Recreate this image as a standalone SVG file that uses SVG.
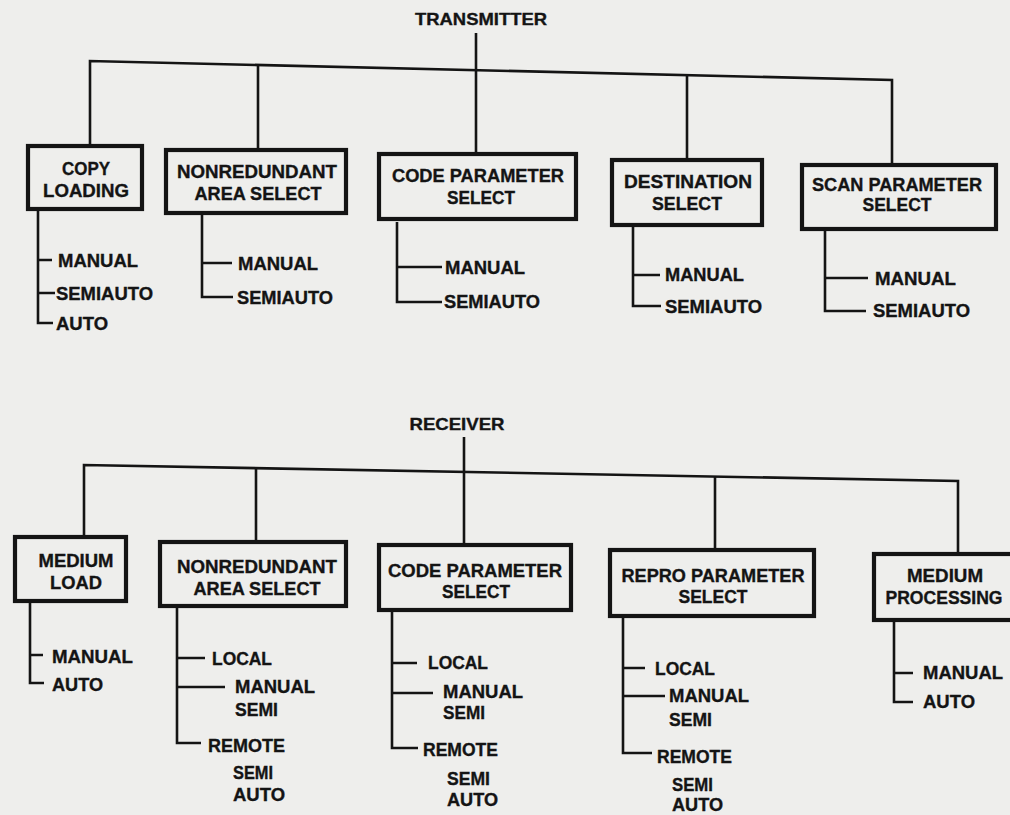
<svg xmlns="http://www.w3.org/2000/svg" width="1010" height="815" viewBox="0 0 1010 815">
<style>
.bg{fill:#eeeeec}
.box{fill:none;stroke:#141414;stroke-width:4.2}
.ln{fill:none;stroke:#141414;stroke-width:2.6}
text{font-family:"Liberation Sans",Arial,sans-serif;font-weight:bold;font-size:18px;fill:#141414;stroke:#141414;stroke-width:0.35}
.m{text-anchor:middle}
.h{font-size:16.5px}
</style>
<rect class="bg" x="0" y="0" width="1010" height="815"/>

<g id="connectors">
  <!-- transmitter tree -->
  <path class="ln" d="M476,33 V152"/>
  <path class="ln" d="M90,144 V61 L892,80 V163"/>
  <path class="ln" d="M258,65 V148"/>
  <path class="ln" d="M687,75 V158"/>
  <!-- transmitter lists -->
  <path class="ln" d="M38,211 V323 H53 M38,260 H52 M38,293 H55"/>
  <path class="ln" d="M202,215 V297 H233 M202,263 H232"/>
  <path class="ln" d="M397,222 V302 H442 M397,267 H442"/>
  <path class="ln" d="M633,227 V306 H661 M633,275 H660"/>
  <path class="ln" d="M825,231 V311 H866 M825,278 H868"/>
  <!-- receiver tree -->
  <path class="ln" d="M464,437 V543"/>
  <path class="ln" d="M84,535 V465 L958,481 V552"/>
  <path class="ln" d="M256,468 V540"/>
  <path class="ln" d="M715,477 V548"/>
  <!-- receiver lists -->
  <path class="ln" d="M30,603 V683 H44 M30,655 H43"/>
  <path class="ln" d="M177,608 V743 H201 M177,658 H205 M177,687 H225"/>
  <path class="ln" d="M392,612 V748 H418 M392,663 H417 M392,693 H433"/>
  <path class="ln" d="M623,618 V753 H652 M623,668 H645 M623,696 H665"/>
  <path class="ln" d="M894,622 V702 H913 M894,673 H913"/>
</g>

<g id="transmitter">
  <text class="m h" x="481" y="25" textLength="132" lengthAdjust="spacingAndGlyphs">TRANSMITTER</text>
</g>

<g id="copy-loading">
  <rect class="box" x="28" y="146" width="114" height="63"/>
  <text class="m" x="86" y="175" textLength="48" lengthAdjust="spacingAndGlyphs">COPY</text>
  <text class="m" x="86" y="197" textLength="86" lengthAdjust="spacingAndGlyphs">LOADING</text>
  <text x="58" y="267" textLength="80" lengthAdjust="spacingAndGlyphs">MANUAL</text>
  <text x="56" y="300" textLength="97" lengthAdjust="spacingAndGlyphs">SEMIAUTO</text>
  <text x="56" y="330" textLength="52" lengthAdjust="spacingAndGlyphs">AUTO</text>
</g>

<g id="t-nonredundant">
  <rect class="box" x="166" y="150" width="180" height="63"/>
  <text class="m" x="257" y="178" textLength="160" lengthAdjust="spacingAndGlyphs">NONREDUNDANT</text>
  <text class="m" x="258" y="200" textLength="127" lengthAdjust="spacingAndGlyphs">AREA SELECT</text>
  <text x="238" y="270" textLength="80" lengthAdjust="spacingAndGlyphs">MANUAL</text>
  <text x="237" y="304" textLength="96" lengthAdjust="spacingAndGlyphs">SEMIAUTO</text>
</g>

<g id="t-code-parameter">
  <rect class="box" x="379" y="154" width="197" height="65"/>
  <text class="m" x="478" y="182" textLength="172" lengthAdjust="spacingAndGlyphs">CODE PARAMETER</text>
  <text class="m" x="481" y="204" textLength="68" lengthAdjust="spacingAndGlyphs">SELECT</text>
  <text x="445" y="274" textLength="80" lengthAdjust="spacingAndGlyphs">MANUAL</text>
  <text x="444" y="308" textLength="96" lengthAdjust="spacingAndGlyphs">SEMIAUTO</text>
</g>

<g id="destination">
  <rect class="box" x="612" y="160" width="150" height="65"/>
  <text class="m" x="688" y="188" textLength="128" lengthAdjust="spacingAndGlyphs">DESTINATION</text>
  <text class="m" x="687" y="210" textLength="70" lengthAdjust="spacingAndGlyphs">SELECT</text>
  <text x="665" y="281" textLength="79" lengthAdjust="spacingAndGlyphs">MANUAL</text>
  <text x="665" y="313" textLength="97" lengthAdjust="spacingAndGlyphs">SEMIAUTO</text>
</g>

<g id="scan-parameter">
  <rect class="box" x="802" y="165" width="194" height="64"/>
  <text class="m" x="897" y="191" textLength="170" lengthAdjust="spacingAndGlyphs">SCAN PARAMETER</text>
  <text class="m" x="897" y="211" textLength="69" lengthAdjust="spacingAndGlyphs">SELECT</text>
  <text x="875" y="285" textLength="81" lengthAdjust="spacingAndGlyphs">MANUAL</text>
  <text x="873" y="317" textLength="97" lengthAdjust="spacingAndGlyphs">SEMIAUTO</text>
</g>

<g id="receiver">
  <text class="m h" x="457" y="430" textLength="95" lengthAdjust="spacingAndGlyphs">RECEIVER</text>
</g>

<g id="medium-load">
  <rect class="box" x="15" y="537" width="111" height="64"/>
  <text class="m" x="76" y="567" textLength="75" lengthAdjust="spacingAndGlyphs">MEDIUM</text>
  <text class="m" x="76" y="589" textLength="52" lengthAdjust="spacingAndGlyphs">LOAD</text>
  <text x="52" y="663" textLength="81" lengthAdjust="spacingAndGlyphs">MANUAL</text>
  <text x="52" y="691" textLength="51" lengthAdjust="spacingAndGlyphs">AUTO</text>
</g>

<g id="r-nonredundant">
  <rect class="box" x="160" y="542" width="186" height="64"/>
  <text class="m" x="257" y="573" textLength="160" lengthAdjust="spacingAndGlyphs">NONREDUNDANT</text>
  <text class="m" x="257" y="595" textLength="127" lengthAdjust="spacingAndGlyphs">AREA SELECT</text>
  <text x="212" y="665" textLength="60" lengthAdjust="spacingAndGlyphs">LOCAL</text>
  <text x="235" y="693" textLength="80" lengthAdjust="spacingAndGlyphs">MANUAL</text>
  <text x="235" y="716" textLength="43" lengthAdjust="spacingAndGlyphs">SEMI</text>
  <text x="208" y="752" textLength="77" lengthAdjust="spacingAndGlyphs">REMOTE</text>
  <text x="233" y="779" textLength="40" lengthAdjust="spacingAndGlyphs">SEMI</text>
  <text x="233" y="801" textLength="52" lengthAdjust="spacingAndGlyphs">AUTO</text>
</g>

<g id="r-code-parameter">
  <rect class="box" x="379" y="545" width="192" height="65"/>
  <text class="m" x="475" y="577" textLength="174" lengthAdjust="spacingAndGlyphs">CODE PARAMETER</text>
  <text class="m" x="476" y="598" textLength="68" lengthAdjust="spacingAndGlyphs">SELECT</text>
  <text x="428" y="669" textLength="60" lengthAdjust="spacingAndGlyphs">LOCAL</text>
  <text x="443" y="698" textLength="80" lengthAdjust="spacingAndGlyphs">MANUAL</text>
  <text x="443" y="719" textLength="42" lengthAdjust="spacingAndGlyphs">SEMI</text>
  <text x="423" y="756" textLength="75" lengthAdjust="spacingAndGlyphs">REMOTE</text>
  <text x="447" y="785" textLength="43" lengthAdjust="spacingAndGlyphs">SEMI</text>
  <text x="447" y="806" textLength="51" lengthAdjust="spacingAndGlyphs">AUTO</text>
</g>

<g id="repro-parameter">
  <rect class="box" x="610" y="550" width="204" height="66"/>
  <text class="m" x="713" y="582" textLength="183" lengthAdjust="spacingAndGlyphs">REPRO PARAMETER</text>
  <text class="m" x="713" y="603" textLength="69" lengthAdjust="spacingAndGlyphs">SELECT</text>
  <text x="655" y="675" textLength="60" lengthAdjust="spacingAndGlyphs">LOCAL</text>
  <text x="669" y="702" textLength="80" lengthAdjust="spacingAndGlyphs">MANUAL</text>
  <text x="669" y="726" textLength="43" lengthAdjust="spacingAndGlyphs">SEMI</text>
  <text x="657" y="763" textLength="75" lengthAdjust="spacingAndGlyphs">REMOTE</text>
  <text x="672" y="791" textLength="41" lengthAdjust="spacingAndGlyphs">SEMI</text>
  <text x="672" y="811" textLength="51" lengthAdjust="spacingAndGlyphs">AUTO</text>
</g>

<g id="medium-processing">
  <rect class="box" x="874" y="554" width="150" height="66"/>
  <text class="m" x="945" y="582" textLength="76" lengthAdjust="spacingAndGlyphs">MEDIUM</text>
  <text class="m" x="944" y="604" textLength="117" lengthAdjust="spacingAndGlyphs">PROCESSING</text>
  <text x="923" y="679" textLength="80" lengthAdjust="spacingAndGlyphs">MANUAL</text>
  <text x="923" y="708" textLength="52" lengthAdjust="spacingAndGlyphs">AUTO</text>
</g>
</svg>
